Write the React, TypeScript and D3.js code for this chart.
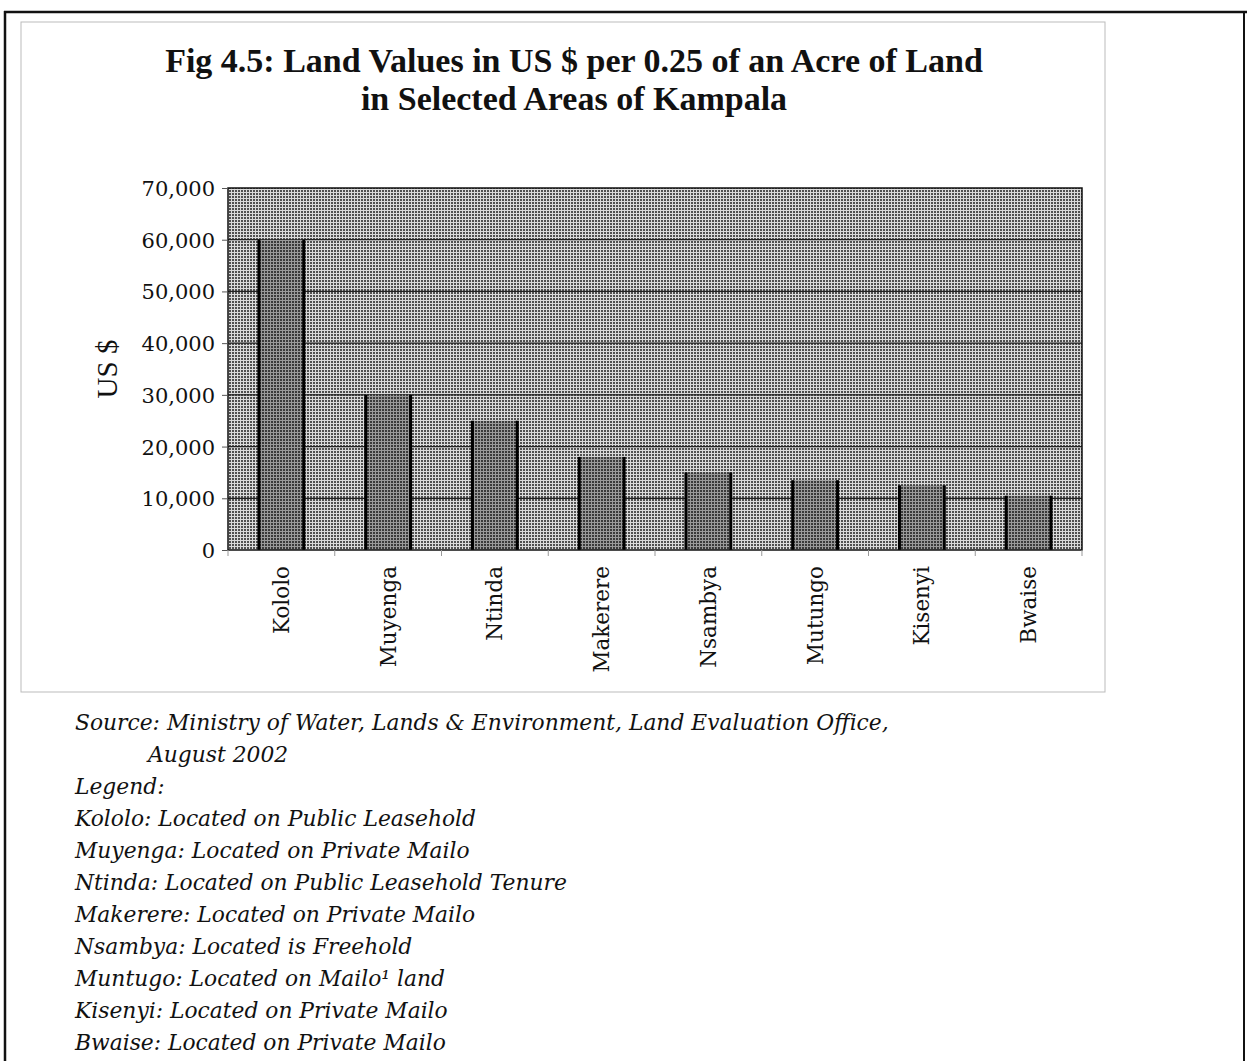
import React, { useRef, useEffect } from 'react';
import { select, scaleBand, scaleLinear, axisLeft, axisBottom, format } from 'd3';

const areas = ['Kololo', 'Muyenga', 'Ntinda', 'Makerere', 'Nsambya', 'Mutungo', 'Kisenyi', 'Bwaise'];
const landValues = [60000, 30000, 25000, 18000, 15000, 13500, 12500, 10500];
const yTicks = [0, 10000, 20000, 30000, 40000, 50000, 60000, 70000];

const titleLines = [
  'Fig 4.5: Land Values in US $ per 0.25 of an Acre of Land',
  'in Selected Areas of Kampala',
];
const notes = [
  'Source: Ministry of Water, Lands & Environment, Land Evaluation Office,',
  'August 2002',
  'Legend:',
  'Kololo: Located on Public Leasehold',
  'Muyenga: Located on Private Mailo',
  'Ntinda: Located on Public Leasehold Tenure',
  'Makerere: Located on Private Mailo',
  'Nsambya: Located is Freehold',
  'Muntugo: Located on Mailo\u00B9 land',
  'Kisenyi: Located on Private Mailo',
  'Bwaise: Located on Private Mailo',
];

const W = 1247;
const H = 1061;
const plot = { left: 228, right: 1082, top: 188, bottom: 550 };
const serif = '"Liberation Serif", "DejaVu Serif", serif';
const wideSerif = '"DejaVu Serif", serif';

const App = () => {
  const svgRef = useRef(null);

  useEffect(() => {
    const svg = select(svgRef.current);

    const x = scaleBand().domain(areas).range([plot.left, plot.right]).paddingInner(0.58).paddingOuter(0.29);
    const y = scaleLinear().domain([0, 70000]).range([plot.bottom, plot.top]);

    const g = svg.select('.plot');
    g.selectAll('*').remove();

    g.append('rect')
      .attr('x', plot.left)
      .attr('y', plot.top)
      .attr('width', plot.right - plot.left)
      .attr('height', plot.bottom - plot.top)
      .attr('fill', 'url(#bgHatch)');

    g.selectAll('.grid')
      .data(yTicks.slice(1, -1))
      .join('line')
      .attr('class', 'grid')
      .attr('x1', plot.left)
      .attr('x2', plot.right)
      .attr('y1', (d) => y(d))
      .attr('y2', (d) => y(d))
      .attr('stroke', '#222')
      .attr('stroke-width', 1.2);

    g.selectAll('.bar')
      .data(landValues)
      .join('rect')
      .attr('class', 'bar')
      .attr('x', (d, i) => x(areas[i]))
      .attr('y', (d) => y(d))
      .attr('width', x.bandwidth())
      .attr('height', (d) => y(0) - y(d))
      .attr('fill', 'url(#barHatch)');

    // thick dark sides on bars
    g.selectAll('.side')
      .data(landValues.flatMap((d, i) => [
        { v: d, px: x(areas[i]) },
        { v: d, px: x(areas[i]) + x.bandwidth() },
      ]))
      .join('line')
      .attr('class', 'side')
      .attr('x1', (d) => d.px)
      .attr('x2', (d) => d.px)
      .attr('y1', (d) => y(d.v))
      .attr('y2', y(0))
      .attr('stroke', '#000')
      .attr('stroke-width', 3);

    g.append('rect')
      .attr('x', plot.left)
      .attr('y', plot.top)
      .attr('width', plot.right - plot.left)
      .attr('height', plot.bottom - plot.top)
      .attr('fill', 'none')
      .attr('stroke', '#111')
      .attr('stroke-width', 1.5);

    const yAxis = axisLeft(y).tickValues(yTicks).tickSize(6).tickPadding(7).tickFormat(format(','));
    const ya = svg.select('.y-axis').attr('transform', `translate(${plot.left},0)`).call(yAxis);
    ya.select('.domain').remove();
    ya.selectAll('text').attr('font-family', wideSerif).attr('font-size', 21).attr('fill', '#111').attr('dy', '0.36em');
    ya.selectAll('line').attr('stroke', '#555');

    const xAxis = axisBottom(x).tickSize(0).tickPadding(0);
    const xa = svg.select('.x-axis').attr('transform', `translate(0,${plot.bottom})`).call(xAxis);
    xa.select('.domain').remove();
    xa.selectAll('text')
      .attr('font-family', wideSerif)
      .attr('font-size', 21.5)
      .attr('fill', '#111')
      .attr('text-anchor', 'end')
      .attr('transform', 'rotate(-90)')
      .attr('x', -16)
      .attr('y', 0)
      .attr('dy', '0.35em');

    // small separator ticks between categories
    svg.select('.x-ticks').selectAll('line')
      .data(areas.map((a, i) => i).concat([areas.length]))
      .join('line')
      .attr('x1', (i) => plot.left + i * x.step())
      .attr('x2', (i) => plot.left + i * x.step())
      .attr('y1', plot.bottom)
      .attr('y2', plot.bottom + 6)
      .attr('stroke', '#999');
  }, []);

  return (
    <svg ref={svgRef} width={W} height={H} style={{ position: 'absolute', left: 0, top: 0, background: '#fff' }}>
      <defs>
        <pattern id="bgHatch" width="3" height="3" patternUnits="userSpaceOnUse">
          <rect width="3" height="3" fill="#505050" />
          <rect width="3" height="1" fill="#dadada" />
          <rect width="1" height="3" fill="#dadada" />
        </pattern>
        <pattern id="barHatch" width="3" height="3" patternUnits="userSpaceOnUse">
          <rect width="3" height="3" fill="#3a3a3a" />
          <rect width="3" height="1" fill="#9a9a9a" />
          <rect width="1" height="3" fill="#9a9a9a" />
        </pattern>
      </defs>

      {/* page frame */}
      <line x1={4} x2={W} y1={12} y2={12} stroke="#111" strokeWidth={2.5} />
      <line x1={5} x2={5} y1={11} y2={H} stroke="#111" strokeWidth={2.5} />
      <line x1={1244} x2={1244} y1={11} y2={H} stroke="#111" strokeWidth={2} />
      <rect x={21} y={22} width={1084} height={670} fill="none" stroke="#bbb" strokeWidth={1} />

      {titleLines.map((t, i) => (
        <text key={t} x={574} y={72 + i * 38} textAnchor="middle" fontFamily={serif} fontWeight="bold" fontSize={34} fill="#111">
          {t}
        </text>
      ))}

      <text transform="translate(117,369) rotate(-90)" textAnchor="middle" fontFamily={serif} fontSize={29} fill="#111">
        US $
      </text>

      <g className="plot" />
      <g className="y-axis" />
      <g className="x-axis" />
      <g className="x-ticks" />

      {notes.map((t, i) => (
        <text key={t} x={i === 1 ? 148 : 75} y={730 + i * 32} fontFamily={wideSerif} fontStyle="italic" fontSize={21.8} fill="#111">
          {t}
        </text>
      ))}
    </svg>
  );
};

export default App;
